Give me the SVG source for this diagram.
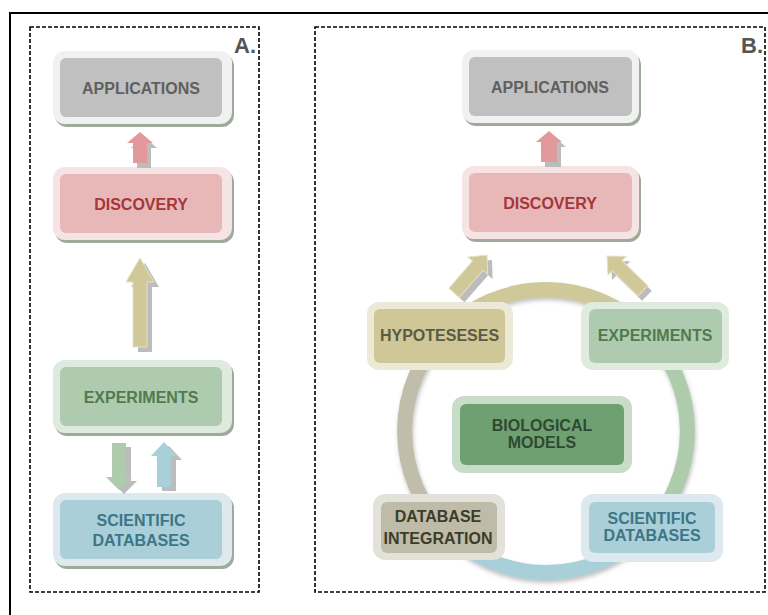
<svg xmlns="http://www.w3.org/2000/svg" width="768" height="615" viewBox="0 0 768 615">
  <defs>
    <style>
      .lbl { font-family: "Liberation Sans", Arial, sans-serif; font-weight: bold; font-size: 16px; text-anchor: middle; }
      .tag { font-family: "Liberation Sans", Arial, sans-serif; font-weight: bold; font-size: 22px; text-anchor: end; fill: #555555; }
      .panel { fill: none; stroke: #000000; stroke-width: 1.6; stroke-dasharray: 4 2; }
      .shadow { fill: #9eab9b; }
      .ashadow { fill: #bcbcbc; }
      .ring { fill: none; stroke-width: 15; }
    </style>
    <filter id="ringShadow" x="-20%" y="-20%" width="140%" height="140%">
      <feDropShadow dx="1" dy="3" stdDeviation="2" flood-color="#777777" flood-opacity="0.45"/>
    </filter>
    <!-- up-pointing block arrows, tip at origin -->
    <path id="arrowSmall" d="M0,0 L13,11 L7,11 L7,31 L-7,31 L-7,11 L-13,11 Z"/>
    <path id="arrowSmallB" d="M0,0 L13,11 L8,11 L8,31 L-8,31 L-8,11 L-13,11 Z"/>
    <path id="arrowLong" d="M0,0 L14,24 L7,24 L7,89 L-7,89 L-7,24 L-14,24 Z"/>
    <path id="arrowMid" d="M0,0 L13,13 L7,13 L7,47 L-7,47 L-7,13 L-13,13 Z"/>
    <path id="arrowMid2" d="M0,0 L13,14 L7,14 L7,45 L-7,45 L-7,14 L-13,14 Z"/>
    <path id="arrowDiag" d="M0,0 L13,14 L7,14 L7,50 L-7,50 L-7,14 L-13,14 Z"/>
  </defs>

  <rect width="768" height="615" fill="#ffffff"/>

  <!-- outer frame -->
  <rect x="10" y="13" width="800" height="700" fill="none" stroke="#000000" stroke-width="2"/>

  <!-- panels -->
  <rect class="panel" x="30" y="27" width="229" height="565"/>
  <rect class="panel" x="315" y="27" width="450" height="565"/>
  <text class="tag" x="256" y="53">A.</text>
  <text class="tag" x="763" y="53">B.</text>

  <!-- cycle ring -->
  <g id="cycle" filter="url(#ringShadow)">
    <path class="ring" stroke="#cfc898" d="M446,331 A141.5,141.5 0 0 1 646,331"/>
    <path class="ring" stroke="#aecbac" d="M646,331 A141.5,141.5 0 0 1 646,531"/>
    <path class="ring" stroke="#a9cfd8" d="M646,531 A141.5,141.5 0 0 1 446,531"/>
    <path class="ring" stroke="#c0bdab" d="M446,531 A141.5,141.5 0 0 1 446,331"/>
  </g>

  <!-- panel A nodes -->
  <g id="a-applications">
    <rect class="shadow" x="55" y="54" width="179" height="73" rx="12"/>
    <rect x="53" y="51" width="179" height="73" rx="12" fill="#f1f1f1"/>
    <rect x="60" y="58" width="162" height="59" rx="6" fill="#c0c0c0"/>
    <text class="lbl" x="141" y="94" fill="#5f5f5f">APPLICATIONS</text>
  </g>
  <g id="a-discovery">
    <rect class="shadow" x="55" y="170" width="179" height="73" rx="12"/>
    <rect x="53" y="167" width="179" height="73" rx="12" fill="#f6e3e3"/>
    <rect x="60" y="174" width="162" height="59" rx="6" fill="#e8b8b8"/>
    <text class="lbl" x="141" y="210" fill="#a5363a">DISCOVERY</text>
  </g>
  <g id="a-experiments">
    <rect class="shadow" x="55" y="363" width="179" height="73" rx="12"/>
    <rect x="53" y="360" width="179" height="73" rx="12" fill="#dfeadf"/>
    <rect x="60" y="367" width="162" height="59" rx="6" fill="#afcbaf"/>
    <text class="lbl" x="141" y="403" fill="#4f7b4f">EXPERIMENTS</text>
  </g>
  <g id="a-databases">
    <rect class="shadow" x="55" y="496" width="179" height="73" rx="12"/>
    <rect x="53" y="493" width="179" height="73" rx="12" fill="#dde9ef"/>
    <rect x="60" y="500" width="162" height="59" rx="6" fill="#aacfd8"/>
    <text class="lbl" x="141" y="526" fill="#3d7686">SCIENTIFIC</text>
    <text class="lbl" x="141" y="546" fill="#3d7686">DATABASES</text>
  </g>

  <!-- panel B nodes -->
  <g id="b-applications">
    <rect class="shadow" x="464" y="53" width="177" height="73" rx="12"/>
    <rect x="462" y="50" width="177" height="73" rx="12" fill="#f1f1f1"/>
    <rect x="469" y="57" width="163" height="59" rx="6" fill="#c0c0c0"/>
    <text class="lbl" x="550" y="93" fill="#5f5f5f">APPLICATIONS</text>
  </g>
  <g id="b-discovery">
    <rect class="shadow" x="464" y="169" width="177" height="73" rx="12"/>
    <rect x="462" y="166" width="177" height="73" rx="12" fill="#f6e3e3"/>
    <rect x="469" y="173" width="163" height="59" rx="6" fill="#e8b8b8"/>
    <text class="lbl" x="550" y="209" fill="#a5363a">DISCOVERY</text>
  </g>
  <g id="b-hypotheses">
    <rect x="367" y="302" width="146" height="68" rx="12" fill="#ede9d7"/>
    <rect x="374" y="309" width="131" height="54" rx="6" fill="#cfc797"/>
    <text class="lbl" x="439.5" y="341" fill="#5c5a45">HYPOTESESES</text>
  </g>
  <g id="b-experiments">
    <rect x="581" y="302" width="148" height="68" rx="12" fill="#e0ebe0"/>
    <rect x="589" y="309" width="133" height="54" rx="6" fill="#afcbaf"/>
    <text class="lbl" x="655" y="341" fill="#4f7b4f">EXPERIMENTS</text>
  </g>
  <g id="b-models">
    <rect x="452" y="396" width="180" height="77" rx="12" fill="#c8dcc8"/>
    <rect x="460" y="404" width="164" height="61" rx="6" fill="#6fa072"/>
    <text class="lbl" x="542" y="431" fill="#2f4a30">BIOLOGICAL</text>
    <text class="lbl" x="542" y="448" fill="#2f4a30">MODELS</text>
  </g>
  <g id="b-integration">
    <rect x="373" y="494" width="132" height="66" rx="12" fill="#e3e2da"/>
    <rect x="381" y="502" width="116" height="51" rx="6" fill="#bebba8"/>
    <text class="lbl" x="438" y="522" fill="#3b3d28">DATABASE</text>
    <text class="lbl" x="438" y="544" fill="#3b3d28">INTEGRATION</text>
  </g>
  <g id="b-databases">
    <rect x="581" y="494" width="142" height="68" rx="12" fill="#dde9ef"/>
    <rect x="589" y="502" width="126" height="51" rx="6" fill="#aacfd8"/>
    <text class="lbl" x="652" y="524" fill="#3d7686">SCIENTIFIC</text>
    <text class="lbl" x="652" y="541" fill="#3d7686">DATABASES</text>
  </g>

  <!-- connectors -->
  <g id="connectors">
    <!-- panel A -->
    <use href="#arrowSmall" class="ashadow" transform="translate(144,137)"/>
    <use href="#arrowSmall" fill="#e2999b" transform="translate(140,132)"/>

    <use href="#arrowLong" class="ashadow" transform="translate(145,263)"/>
    <use href="#arrowLong" fill="#d0c898" stroke="#e6e1c4" stroke-width="1" transform="translate(140,258)"/>

    <use href="#arrowMid" class="ashadow" transform="translate(124,494) rotate(180)"/>
    <use href="#arrowMid" fill="#aecbab" transform="translate(119,490) rotate(180)"/>

    <use href="#arrowMid2" class="ashadow" transform="translate(169,446)"/>
    <use href="#arrowMid2" fill="#a9cfd8" transform="translate(164,442)"/>

    <!-- panel B -->
    <use href="#arrowSmallB" class="ashadow" transform="translate(553,136)"/>
    <use href="#arrowSmallB" fill="#e2999b" transform="translate(549,131)"/>

    <use href="#arrowDiag" class="ashadow" transform="translate(492,260) rotate(41)"/>
    <use href="#arrowDiag" fill="#d0c898" stroke="#e6e1c4" stroke-width="1" transform="translate(487,255) rotate(41)"/>

    <use href="#arrowDiag" class="ashadow" transform="translate(611,261) rotate(-46)"/>
    <use href="#arrowDiag" fill="#d0c898" stroke="#e6e1c4" stroke-width="1" transform="translate(607,256) rotate(-46)"/>
  </g>
</svg>
